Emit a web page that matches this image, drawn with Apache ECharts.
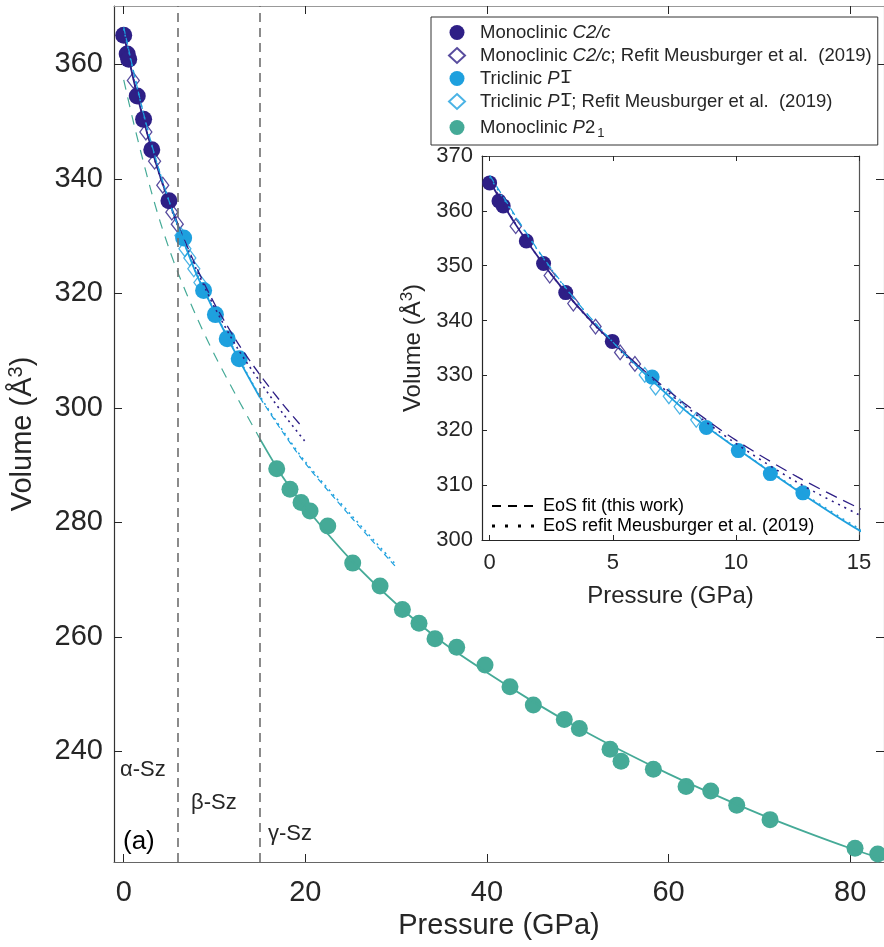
<!DOCTYPE html>
<html>
<head>
<meta charset="utf-8">
<script src="https://cdn.jsdelivr.net/npm/echarts@6/dist/echarts.min.js"></script>
<style>
  html, body { margin: 0; padding: 0; background: #fff; }
  #echarts { width: 884px; height: 947px; }
</style>
</head>
<body>
<div id="echarts"></div>
<script>
// ---- data ----
// Monoclinic C2/c (this work)
var c2cP = [0, 0.38, 0.55, 1.49, 2.19, 3.09, 4.98];
var c2cV = [365.1, 361.8, 360.9, 354.5, 350.4, 345.1, 336.2];
// Monoclinic C2/c, refit Meusburger et al. (2019)
var c2cRefitP = [1.06, 2.44, 3.40, 4.30, 5.30, 5.90];
var c2cRefitV = [357.2, 348.2, 343.1, 338.9, 334.2, 332.1];
// Triclinic P-1 (this work)
var p1P = [6.60, 8.80, 10.10, 11.40, 12.72];
var p1V = [329.7, 320.5, 316.3, 312.1, 308.6];
// Triclinic P-1, refit
var p1RefitP = [6.30, 6.74, 7.28, 7.72, 8.39];
var p1RefitV = [330.1, 327.8, 326.2, 324.3, 321.9];
// Monoclinic P2_1
var p21P = [16.85, 18.31, 19.53, 20.52, 22.47, 25.22, 28.23, 30.69, 32.52, 34.28, 36.67, 39.79, 42.54,
            45.11, 48.52, 50.18, 53.56, 54.77, 58.33, 61.93, 64.65, 67.51, 71.18, 80.54, 83.04];
var p21V = [289.4, 285.8, 283.5, 282.0, 279.4, 272.9, 268.9, 264.8, 262.4, 259.7, 258.2, 255.1, 251.3,
            248.1, 245.6, 244.0, 240.4, 238.3, 236.9, 233.9, 233.1, 230.6, 228.1, 223.1, 222.1];

// EoS curves
var navyFitP = [0, 1, 2, 3, 4, 5, 6, 8, 10, 12.5, 15, 17.5, 19.8];
var navyFitV = [365.4, 357.9, 351.4, 345.6, 340.5, 336.0, 331.9, 324.6, 318.2, 311.5, 305.8, 300.7, 296.4];
var navyRefitP = [0, 1, 2, 3, 4, 5, 6, 8, 10, 12.5, 15, 17.5, 20];
var navyRefitV = [365.6, 358.0, 351.4, 345.6, 340.4, 335.8, 331.6, 324.2, 317.6, 310.5, 304.6, 299.1, 294.1];
var lightFitP = [0, 1, 2, 3, 4, 5, 6, 8, 10, 12.5, 15, 17.5, 20, 25, 30];
var lightFitV = [366.5, 359.4, 352.6, 346.5, 341.0, 336.1, 331.6, 323.4, 316.8, 309.0, 301.8, 295.8, 290.3, 281.0, 272.2];
var lightRefitV = [366.2, 359.2, 352.5, 346.4, 341.0, 336.1, 331.6, 323.5, 316.9, 309.2, 302.1, 296.1, 290.6, 281.4, 272.6];
var tealFitP = [0, 1, 2, 3, 4, 5, 6, 8, 10, 12.5, 15, 17.5, 20, 25, 30, 35, 40, 45, 50, 55, 60, 65, 70, 75, 80, 84];
var tealFitV = [357.3, 350.4, 344.0, 338.0, 332.6, 327.8, 323.5, 316.0, 309.3, 301.8, 294.6, 288.0, 282.7, 273.5,
                265.8, 259.2, 253.8, 248.8, 244.2, 240.0, 236.1, 232.5, 229.1, 226.0, 223.1, 221.0];

// phase boundaries (GPa)
var phaseBounds = [6, 15];

// tick labels
var mainXTicks = [0, 20, 40, 60, 80];
var mainYTicks = [240, 260, 280, 300, 320, 340, 360];
var insetXTicks = [0, 5, 10, 15];

var navy = '#2e1f86';
var light = '#1ea0de';
var teal = '#45aa97';
var ink = '#262626';
var font = "'Liberation Sans', Arial, Helvetica, sans-serif";

var names = [
  'Monoclinic C2/c',
  'Monoclinic C2/c; Refit Meusburger et al.  (2019)',
  'Triclinic P-1',
  'Triclinic P-1; Refit Meusburger et al.  (2019)',
  'Monoclinic P21'
];
var legendRich = {};
legendRich[names[0]] = '{n|Monoclinic }{i|C2/c}';
legendRich[names[1]] = '{n|Monoclinic }{i|C2/c}{n|; Refit Meusburger et al.  (2019)}';
legendRich[names[2]] = '{n|Triclinic }{i|P}{ob|1\u0305}';
legendRich[names[3]] = '{n|Triclinic }{i|P}{ob|1\u0305}{n|; Refit Meusburger et al.  (2019)}';
legendRich[names[4]] = '{n|Monoclinic }{i|P}{n|2}{s|1}';

function pairs(P, V, lo, hi) {
  var out = [];
  for (var i = 0; i < P.length; i++) {
    if (P[i] >= lo && P[i] <= hi) out.push([P[i], V[i]]);
  }
  return out;
}

function scatter(name, P, V, color, hollow, size, axis) {
  return {
    name: name, type: 'scatter', xAxisIndex: axis, yAxisIndex: axis, z: 2,
    symbol: hollow ? 'diamond' : 'circle',
    symbolSize: hollow ? [size * 0.8, size * 1.05] : size,
    itemStyle: hollow ? { color: 'rgba(255,255,255,0)', borderColor: color, borderWidth: 1.3 }
                      : { color: color, opacity: 1 },
    data: pairs(P, V, -1, 100)
  };
}

function curve(data, color, type, width, axis) {
  return {
    type: 'line', xAxisIndex: axis, yAxisIndex: axis, z: 3, silent: true,
    smooth: 0.3, symbol: 'none', clip: true,
    lineStyle: { color: color, type: type, width: width },
    data: data
  };
}

var series = [];
// main plot markers
series.push(scatter(names[0], c2cP, c2cV, navy, false, 17, 0));
series.push(scatter(names[1], c2cRefitP, c2cRefitV, navy, true, 15, 0));
series.push(scatter(names[2], p1P, p1V, light, false, 17, 0));
series.push(scatter(names[3], p1RefitP, p1RefitV, light, true, 15, 0));
series.push(scatter(names[4], p21P, p21V, teal, false, 17, 0));
// main plot curves
series.push(curve(pairs(navyFitP, navyFitV, 0, 6), navy, 'solid', 1.8, 0));
series.push(curve(pairs(navyFitP, navyFitV, 6, 30), navy, [10, 6], 1.3, 0));
series.push(curve(pairs(navyRefitP, navyRefitV, 0, 30), navy, [2, 4], 1.6, 0));
series.push(curve(pairs(lightFitP, lightFitV, 0, 6), light, [7, 4], 1.2, 0));
series.push(curve(pairs(lightFitP, lightFitV, 6, 15), light, 'solid', 1.8, 0));
series.push(curve(pairs(lightFitP, lightFitV, 15, 30), light, [6, 4], 1.2, 0));
series.push(curve(pairs(lightFitP, lightRefitV, 0, 30), light, [2, 4], 1.5, 0));
series.push(curve(pairs(tealFitP, tealFitV, 0, 15), teal, [10, 8], 1.2, 0));
var tealSolid = curve(pairs(tealFitP, tealFitV, 15, 90), teal, 'solid', 1.8, 0);
tealSolid.markLine = {
  silent: true, symbol: ['none', 'none'], label: { show: false },
  lineStyle: { color: '#6e6e6e', type: [9, 6], width: 1.6 },
  data: phaseBounds.map(function (p) { return { xAxis: p }; })
};
series.push(tealSolid);
// inset markers
series.push(scatter(names[0], c2cP, c2cV, navy, false, 15, 2));
series.push(scatter(names[1], c2cRefitP, c2cRefitV, navy, true, 14, 2));
series.push(scatter(names[2], p1P, p1V, light, false, 15, 2));
series.push(scatter(names[3], p1RefitP, p1RefitV, light, true, 14, 2));
// inset curves
series.push(curve(pairs(navyFitP, navyFitV, 0, 6), navy, 'solid', 1.8, 2));
series.push(curve(pairs(navyFitP, navyFitV, 6, 30), navy, [12, 7], 1.3, 2));
series.push(curve(pairs(navyRefitP, navyRefitV, 0, 30), navy, [2, 5], 1.6, 2));
series.push(curve(pairs(lightFitP, lightFitV, 0, 6), light, [8, 5], 1.2, 2));
series.push(curve(pairs(lightFitP, lightFitV, 6, 30), light, 'solid', 1.8, 2));
series.push(curve(pairs(lightFitP, lightRefitV, 0, 30), light, [2, 5], 1.4, 2));

function xAx(grid, pos, min, max, ticks, tickLen, show, lineColor, fs) {
  return {
    type: 'value', gridIndex: grid, position: pos, min: min, max: max,
    splitLine: { show: false },
    axisLine: { onZero: false, lineStyle: { color: lineColor, width: 1.2 } },
    axisTick: { inside: true, length: tickLen, customValues: ticks, lineStyle: { color: ink } },
    axisLabel: { show: show, customValues: ticks, color: ink, fontSize: fs, fontFamily: font, margin: 14 }
  };
}

var xMain = xAx(0, 'bottom', -1.07, 83.73, mainXTicks, 8, true, '#666', 29);
xMain.axisLabel.margin = 16;
xMain.name = 'Pressure (GPa)';
xMain.nameLocation = 'middle';
xMain.nameGap = 48;
xMain.nameTextStyle = { color: ink, fontSize: 29, fontFamily: font };
var xInset = xAx(1, 'bottom', -0.31, 15, insetXTicks, 5, true, ink, 22);
xInset.axisLabel.margin = 12;
xInset.name = 'Pressure (GPa)';
xInset.nameLocation = 'middle';
xInset.nameGap = 44;
xInset.nameTextStyle = { color: ink, fontSize: 24, fontFamily: font };

var yMain = xAx(0, 'left', 220.7, 370.2, mainYTicks, 8, true, '#333', 29);
yMain.axisLabel.margin = 11;
yMain.name = 'Volume (Å{sup|3})';
yMain.nameLocation = 'middle';
yMain.nameGap = 74;
yMain.nameTextStyle = { color: ink, fontSize: 29, fontFamily: font,
  rich: { sup: { fontSize: 20, color: ink, fontFamily: font, padding: [0, 0, 14, 0] } } };
var yInset = {
  type: 'value', gridIndex: 1, position: 'left', min: 300, max: 370, interval: 10,
  splitLine: { show: false },
  axisLine: { onZero: false, lineStyle: { color: ink, width: 1.2 } },
  axisTick: { inside: true, length: 5, lineStyle: { color: ink } },
  axisLabel: { color: ink, fontSize: 22, fontFamily: font, margin: 9 },
  name: 'Volume (Å{sup|3})', nameLocation: 'middle', nameGap: 54,
  nameTextStyle: { color: ink, fontSize: 24, fontFamily: font,
    rich: { sup: { fontSize: 17, color: ink, fontFamily: font, padding: [0, 0, 12, 0] } } }
};
var yInsetRight = {
  type: 'value', gridIndex: 1, position: 'right', min: 300, max: 370, interval: 10,
  splitLine: { show: false },
  axisLine: { onZero: false, lineStyle: { color: '#555', width: 1.2 } },
  axisTick: { inside: true, length: 5, lineStyle: { color: ink } },
  axisLabel: { show: false }
};

var option = {
  backgroundColor: '#fff',
  animation: false,
  textStyle: { fontFamily: font },
  grid: [
    { left: 114, top: 6, width: 770, height: 856, outerBoundsMode: 'none' },
    { left: 482, top: 156, width: 377, height: 384, outerBoundsMode: 'none',
      backgroundColor: '#fff', show: true, borderWidth: 0 }
  ],
  xAxis: [
    xMain,
    xAx(0, 'top', -1.07, 83.73, mainXTicks, 8, false, '#999', 28),
    xInset,
    xAx(1, 'top', -0.31, 15, insetXTicks, 5, false, '#555', 22)
  ],
  yAxis: [
    yMain,
    xAx(0, 'right', 220.7, 370.2, mainYTicks, 8, false, '#999', 28),
    yInset,
    yInsetRight
  ],
  legend: {
    data: names,
    orient: 'vertical',
    left: 431, top: 17,
    padding: [6, 6, 5, 17],
    itemWidth: 16, itemHeight: 15, itemGap: 4,
    backgroundColor: '#fff', borderColor: '#333', borderWidth: 1,
    selectedMode: false,
    formatter: function (name) { return legendRich[name]; },
    textStyle: {
      padding: [0, 0, 0, 10],
      rich: {
        n: { fontSize: 18.5, lineHeight: 18, color: ink, fontFamily: font },
        i: { fontSize: 18.5, lineHeight: 18, color: ink, fontFamily: font, fontStyle: 'italic' },
        ob: { fontSize: 18.5, lineHeight: 18, color: ink, fontFamily: "'DejaVu Sans', sans-serif" },
        s: { fontSize: 13, lineHeight: 13, color: ink, fontFamily: font, padding: [12, 0, 0, 2] }
      }
    }
  },
  graphic: [
    { type: 'text', x: 120, y: 770, style: { text: 'α-Sz', fontSize: 22, fontFamily: font, fill: ink, verticalAlign: 'middle' } },
    { type: 'text', x: 191, y: 803, style: { text: 'β-Sz', fontSize: 22, fontFamily: font, fill: ink, verticalAlign: 'middle' } },
    { type: 'text', x: 268, y: 834, style: { text: 'γ-Sz', fontSize: 22, fontFamily: font, fill: ink, verticalAlign: 'middle' } },
    { type: 'text', x: 123, y: 842, style: { text: '(a)', fontSize: 26, fontFamily: font, fill: '#000', verticalAlign: 'middle' } },
    { type: 'line', shape: { x1: 492, y1: 506, x2: 536, y2: 506 }, style: { stroke: '#000', lineWidth: 2, lineDash: [9, 7] }, z: 10 },
    { type: 'line', shape: { x1: 492, y1: 526, x2: 536, y2: 526 }, style: { stroke: '#000', lineWidth: 3, lineDash: [3, 10] }, z: 10 },
    { type: 'text', x: 543, y: 506, z: 10, style: { text: 'EoS fit (this work)', fontSize: 18, fontFamily: font, fill: '#000', verticalAlign: 'middle' } },
    { type: 'text', x: 543, y: 526, z: 10, style: { text: 'EoS refit Meusburger et al. (2019)', fontSize: 18, fontFamily: font, fill: '#000', verticalAlign: 'middle' } }
  ],
  series: series
};

var myChart = echarts.init(document.getElementById('echarts'));
myChart.setOption(option);
</script>
</body>
</html>
